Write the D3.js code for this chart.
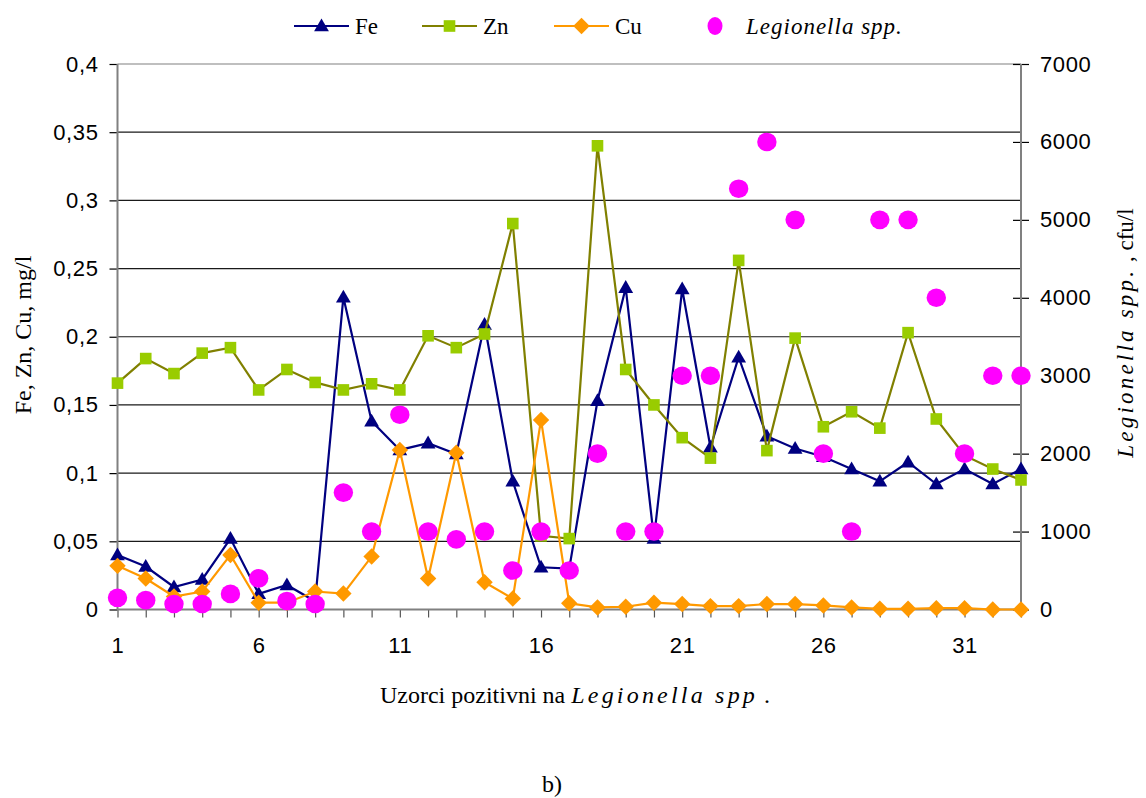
<!DOCTYPE html>
<html><head><meta charset="utf-8">
<script src="https://cdn.jsdelivr.net/npm/d3@7"></script>
<style>body{margin:0;background:#fff} svg{display:block}</style>
</head><body><svg id="c" width="1146" height="798"></svg>
<script>
// ---- data ----
const samples = [1,2,3,4,5,6,7,8,9,10,11,12,13,14,15,16,17,18,19,20,21,22,23,24,25,26,27,28,29,30,31,32,33];
const fe = [0.040,0.0315,0.0165,0.022,0.052,0.0115,0.018,0.006,0.229,0.138,0.117,0.122,0.114,0.209,0.094,0.031,0.030,0.153,0.236,0.052,0.235,0.119,0.185,0.127,0.118,0.112,0.103,0.094,0.108,0.092,0.103,0.092,0.103];
const zn = [0.166,0.184,0.173,0.188,0.192,0.161,0.176,0.1665,0.161,0.1655,0.161,0.2007,0.192,0.202,0.283,0.054,0.052,0.340,0.176,0.150,0.126,0.111,0.256,0.1165,0.199,0.134,0.145,0.133,0.203,0.1397,0.113,0.103,0.095];
const cu = [0.032,0.0227,0.0095,0.0132,0.040,0.005,0.005,0.0132,0.0117,0.0388,0.117,0.0227,0.115,0.020,0.008,0.139,0.0046,0.0015,0.002,0.005,0.004,0.0025,0.0025,0.004,0.004,0.003,0.0015,0.0005,0.0005,0.001,0.001,0,0];
const legionella = [150,120,70,70,200,400,110,70,1500,1000,2500,1000,900,1000,500,1000,500,2000,1000,1000,3000,3000,5400,6000,5000,2000,1000,5000,5000,4000,2000,3000,3000];
const leftTicks = [0,0.05,0.1,0.15,0.2,0.25,0.3,0.35,0.4];
const rightTicks = [0,1000,2000,3000,4000,5000,6000,7000];
const xLabelTicks = [1,6,11,16,21,26,31];
const seriesNames = ["Fe","Zn","Cu"];
const legName = "Legionella spp.";

// ---- layout ----
const svg = d3.select("#c");
const L = 117.5, R = 1021, T = 64, B = 609.5;
const x = d3.scaleLinear().domain([1,33]).range([L,R]);
const yL = d3.scaleLinear().domain([0,0.4]).range([B,T]);
const yR = d3.scaleLinear().domain([0,7000]).range([B,T]);
const fmt = v => String(v).replace(".", ",");
const sans = "'Liberation Sans', Arial, sans-serif";
const serif = "'Liberation Serif', 'Times New Roman', serif";

// gridlines
svg.append("g").selectAll("line").data(leftTicks.slice(1)).join("line")
  .attr("x1", L).attr("x2", R)
  .attr("y1", d => yL(d)).attr("y2", d => yL(d))
  .attr("stroke", d => d === 0.4 ? "#808080" : "#1a1a1a").attr("stroke-width", 1.2);

// left axis
const gL = svg.append("g").attr("transform", `translate(${L},0)`)
  .call(d3.axisLeft(yL).tickValues(leftTicks).tickFormat(fmt).tickSize(8).tickPadding(11));
gL.select(".domain").remove();
gL.selectAll(".tick line").attr("stroke", "#000").attr("stroke-width", 1.2);
gL.selectAll(".tick text").attr("font-family", sans).attr("font-size", 22).attr("letter-spacing", "0.6px").attr("fill", "#000");

// right axis
const gR = svg.append("g").attr("transform", `translate(${R},0)`)
  .call(d3.axisRight(yR).tickValues(rightTicks).tickFormat(d => String(d)).tickSize(8).tickPadding(11));
gR.select(".domain").remove();
gR.selectAll(".tick line").attr("x1", -8).attr("stroke", "#000").attr("stroke-width", 1.2);
gR.selectAll(".tick text").attr("font-family", sans).attr("font-size", 22).attr("letter-spacing", "0.6px").attr("fill", "#000");

// bottom axis
const gB = svg.append("g").attr("transform", `translate(0,${B})`)
  .call(d3.axisBottom(x).tickValues(samples).tickFormat(d => xLabelTicks.includes(d) ? String(d) : "").tickSize(8).tickPadding(20));
gB.select(".domain").remove();
gB.selectAll(".tick line").attr("stroke", "#555").attr("stroke-width", 1.2);
gB.selectAll(".tick text").attr("font-family", sans).attr("font-size", 22).attr("letter-spacing", "0.6px").attr("fill", "#000");

// axis lines
svg.append("line").attr("x1", L).attr("x2", L).attr("y1", T).attr("y2", B).attr("stroke", "#808080").attr("stroke-width", 2);
svg.append("line").attr("x1", R).attr("x2", R).attr("y1", T).attr("y2", B).attr("stroke", "#808080").attr("stroke-width", 2);
svg.append("line").attr("x1", L).attr("x2", R).attr("y1", B).attr("y2", B).attr("stroke", "#808080").attr("stroke-width", 2);

// series
const tri = d3.symbol().type(d3.symbolTriangle).size(95)();
const sq = d3.symbol().type(d3.symbolSquare).size(135)();
const dia = d3.symbol().type(d3.symbolSquare).size(135)();
const series = [
  {name:"Fe", vals:fe, line:"#000080", fill:"#000080", path:tri, rot:0, dy:1},
  {name:"Zn", vals:zn, line:"#808000", fill:"#99CC00", path:sq, rot:0, dy:0},
  {name:"Cu", vals:cu, line:"#FF9900", fill:"#FF9900", path:dia, rot:45, dy:0}
];
const lineGen = d3.line().x((d,i) => x(samples[i])).y(d => yL(d));
series.forEach(s => {
  const g = svg.append("g");
  g.append("path").attr("d", lineGen(s.vals)).attr("fill", "none").attr("stroke", s.line).attr("stroke-width", 2.2);
  g.selectAll("path.m").data(s.vals).join("path").attr("class", "m")
    .attr("d", s.path).attr("fill", s.fill)
    .attr("transform", (d,i) => `translate(${x(samples[i])},${yL(d) + s.dy}) rotate(${s.rot})`);
});
svg.append("g").selectAll("ellipse").data(legionella).join("ellipse")
  .attr("cx", (d,i) => x(samples[i])).attr("cy", d => yR(d))
  .attr("rx", 9.7).attr("ry", 9.3).attr("fill", "#FF00FF");

// legend
const lg = svg.append("g");
const legItems = [
  {x0:294, name:seriesNames[0], s:series[0]},
  {x0:422, name:seriesNames[1], s:series[1]},
  {x0:554, name:seriesNames[2], s:series[2]}
];
const ly = 26;
legItems.forEach(it => {
  lg.append("line").attr("x1", it.x0).attr("x2", it.x0 + 55).attr("y1", ly).attr("y2", ly).attr("stroke", it.s.line).attr("stroke-width", 2.2);
  lg.append("path").attr("d", it.s.path).attr("fill", it.s.fill)
    .attr("transform", `translate(${it.x0 + 27.5},${ly + it.s.dy}) rotate(${it.s.rot})`);
  lg.append("text").attr("x", it.x0 + 61).attr("y", ly + 8).attr("font-family", serif).attr("font-size", 23).text(it.name);
});
lg.append("ellipse").attr("cx", 715).attr("cy", ly).attr("rx", 7.5).attr("ry", 9).attr("fill", "#FF00FF");
lg.append("text").attr("x", 746).attr("y", ly + 8).attr("font-family", serif).attr("font-size", 23).attr("font-style", "italic").attr("letter-spacing", "1px").text(legName);

// axis titles
svg.append("text").attr("transform", "translate(31,335) rotate(-90)").attr("text-anchor", "middle")
  .attr("font-family", serif).attr("font-size", 24).text("Fe, Zn, Cu, mg/l");
const rt = svg.append("text").attr("transform", "translate(1133,333) rotate(-90)").attr("text-anchor", "middle")
  .attr("font-family", serif).attr("font-size", 23);
rt.append("tspan").attr("font-style", "italic").attr("letter-spacing", "3.2px").text("Legionella spp.");
rt.append("tspan").text(" , cfu/l");

const xt = svg.append("text").attr("x", 575).attr("y", 703).attr("text-anchor", "middle")
  .attr("font-family", serif).attr("font-size", 24);
xt.append("tspan").text("Uzorci pozitivni na ");
xt.append("tspan").attr("font-style", "italic").attr("letter-spacing", "3.2px").text("Legionella spp");
xt.append("tspan").text(" .");

svg.append("text").attr("x", 552).attr("y", 792).attr("text-anchor", "middle")
  .attr("font-family", serif).attr("font-size", 24).text("b)");
</script></body></html>
